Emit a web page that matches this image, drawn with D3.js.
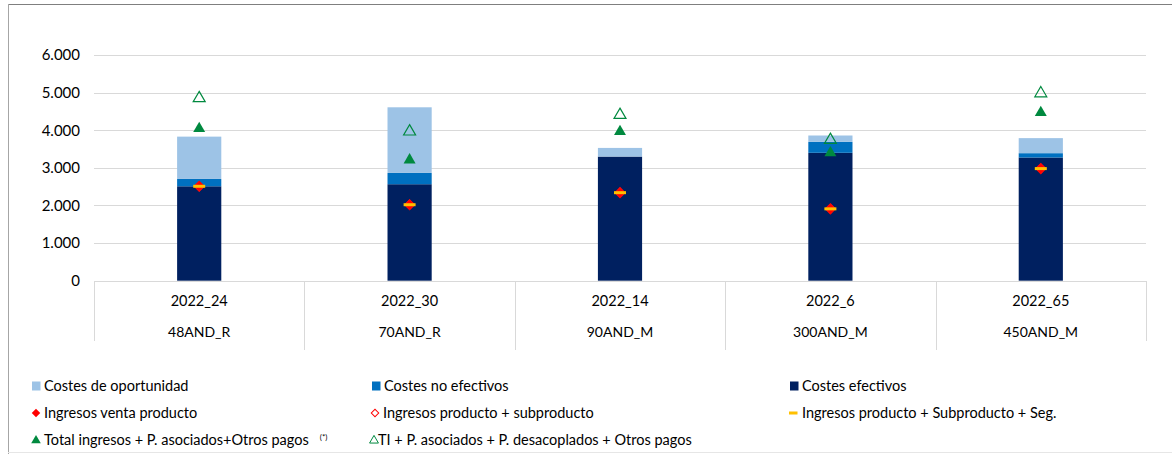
<!DOCTYPE html>
<html>
<head>
<meta charset="utf-8">
<script src="https://cdn.jsdelivr.net/npm/d3@7"></script>
<style>
  body { margin: 0; background: #fff; }
  svg text { font-family: Lato, "Open Sans", sans-serif; fill: #000; }
</style>
</head>
<body>
<div id="chart"></div>
<script>
  // datos
  var years = ["2022_24", "2022_30", "2022_14", "2022_6", "2022_65"];
  var zonas = ["48AND_R", "70AND_R", "90AND_M", "300AND_M", "450AND_M"];

  var costesEfectivos   = [2510, 2565, 3300, 3400, 3275];
  var costesNoEfectivos = [195, 300, 0, 290, 115];
  var costesOportunidad = [1125, 1745, 230, 170, 400];

  var ingresosVenta     = [2510, 2020, 2340, 1910, 2980];
  var ingresosProdSub   = [2510, 2020, 2340, 1910, 2980];
  var ingresosProdSubSeg = [2510, 2020, 2340, 1910, 2980];
  var totalIngresos     = [4045, 3210, 3965, 3400, 4470];
  var tiDesacoplados    = [4850, 3965, 4405, 3740, 4980];

  var yTicks = [0, 1000, 2000, 3000, 4000, 5000, 6000];

  var W = 1172, H = 454;
  var svg = d3.select("#chart").append("svg")
    .attr("width", W).attr("height", H);

  // marco
  svg.append("line").attr("x1", 8).attr("x2", W).attr("y1", 4.5).attr("y2", 4.5)
    .style("stroke", "#7f7f7f").style("stroke-width", 1);
  svg.append("line").attr("x1", 8.5).attr("x2", 8.5).attr("y1", 4).attr("y2", H)
    .style("stroke", "#a6a6a6").style("stroke-width", 1);
  svg.append("line").attr("x1", 8).attr("x2", W).attr("y1", 452.5).attr("y2", 452.5)
    .style("stroke", "#e6e6e6").style("stroke-width", 1);

  var x = d3.scaleBand().domain(years).range([94, 1146]).padding(0);
  var y = d3.scaleLinear().domain([0, 6000]).range([280.7, 55]);
  var barW = x.bandwidth() * 0.21;

  var loc = d3.formatLocale({decimal: ",", thousands: ".", grouping: [3], currency: ["", "€"]});
  var fmt = loc.format(",");

  // rejilla
  svg.append("g").selectAll("line").data(yTicks.slice(1)).enter().append("line")
    .attr("x1", 94).attr("x2", 1146)
    .attr("y1", function(d) { return Math.round(y(d)) + 0.5; })
    .attr("y2", function(d) { return Math.round(y(d)) + 0.5; })
    .style("stroke", "#d9d9d9").style("stroke-width", 1);

  // eje y
  var yAxis = svg.append("g").attr("transform", "translate(86,0)")
    .call(d3.axisLeft(y).tickValues(yTicks).tickFormat(fmt).tickSize(0).tickPadding(6));
  yAxis.select(".domain").remove();
  yAxis.selectAll("text").style("font-size", "15px");

  // barras apiladas
  var stackData = years.map(function(c, i) {
    return {cat: c, efe: costesEfectivos[i], noefe: costesNoEfectivos[i], opo: costesOportunidad[i]};
  });
  var series = d3.stack().keys(["efe", "noefe", "opo"])(stackData);
  var colores = {efe: "#002060", noefe: "#0070c0", opo: "#9dc3e6"};

  svg.append("g").selectAll("g").data(series).enter().append("g")
    .style("fill", function(d) { return colores[d.key]; })
    .selectAll("rect").data(function(d) { return d; }).enter().append("rect")
      .attr("x", function(d) { return x(d.data.cat) + x.bandwidth() / 2 - barW / 2; })
      .attr("width", barW)
      .attr("y", function(d) { return y(d[1]); })
      .attr("height", function(d) { return y(d[0]) - y(d[1]); });

  // linea base y tabla de categorias
  svg.append("line").attr("x1", 94).attr("x2", 1146).attr("y1", 281.5).attr("y2", 281.5)
    .style("stroke", "#d9d9d9");
  var bounds = years.map(function(c) { return x(c); }).concat([x.range()[1]]);
  svg.append("g").selectAll("line").data(bounds).enter().append("line")
    .attr("x1", function(d) { return Math.round(d) + 0.5; })
    .attr("x2", function(d) { return Math.round(d) + 0.5; })
    .attr("y1", 281)
    .attr("y2", function(d, i) { return (i == 0 || i == bounds.length - 1) ? 341 : 350; })
    .style("stroke", "#d9d9d9");

  svg.append("g").selectAll("text").data(years).enter().append("text")
    .attr("x", function(d) { return x(d) + x.bandwidth() / 2; })
    .attr("y", 306)
    .attr("text-anchor", "middle").style("font-size", "14.5px")
    .text(function(d) { return d; });
  svg.append("g").selectAll("text").data(zonas).enter().append("text")
    .attr("x", function(d, i) { return x(years[i]) + x.bandwidth() / 2; })
    .attr("y", 337)
    .attr("text-anchor", "middle").style("font-size", "14px")
    .text(function(d) { return d; });

  // marcadores
  var diamond = d3.symbol().type(d3.symbolSquare).size(52);
  var tri = d3.symbol().type(d3.symbolTriangle).size(62);
  function cx(i) { return x(years[i]) + x.bandwidth() / 2; }

  svg.append("g").selectAll("path").data(tiDesacoplados).enter().append("path")
    .attr("d", tri)
    .attr("transform", function(d, i) { return "translate(" + cx(i) + "," + y(d) + ")"; })
    .style("fill", "none").style("stroke", "#00893f").style("stroke-width", 1.2);
  svg.append("g").selectAll("path").data(totalIngresos).enter().append("path")
    .attr("d", tri)
    .attr("transform", function(d, i) { return "translate(" + cx(i) + "," + y(d) + ")"; })
    .style("fill", "#00893f");
  svg.append("g").selectAll("path").data(ingresosProdSub).enter().append("path")
    .attr("d", diamond)
    .attr("transform", function(d, i) { return "translate(" + cx(i) + "," + y(d) + ") rotate(45)"; })
    .style("fill", "#fff").style("stroke", "#ff0000");
  svg.append("g").selectAll("path").data(ingresosVenta).enter().append("path")
    .attr("d", diamond)
    .attr("transform", function(d, i) { return "translate(" + cx(i) + "," + y(d) + ") rotate(45)"; })
    .style("fill", "#ff0000");
  svg.append("g").selectAll("rect").data(ingresosProdSubSeg).enter().append("rect")
    .attr("x", function(d, i) { return cx(i) - 6; })
    .attr("y", function(d) { return y(d) - 1.5; })
    .attr("width", 12).attr("height", 3)
    .style("fill", "#ffc000");

  // leyenda
  var leyenda = [
    {t: "Costes de oportunidad", m: "sq", c: "#9dc3e6", mx: 36, tx: 44, y: 386},
    {t: "Costes no efectivos", m: "sq", c: "#0070c0", mx: 376, tx: 384, y: 386},
    {t: "Costes efectivos", m: "sq", c: "#002060", mx: 794, tx: 802, y: 386},
    {t: "Ingresos venta producto", m: "dia", c: "#ff0000", mx: 36, tx: 44, y: 413},
    {t: "Ingresos producto + subproducto", m: "odia", c: "#ff0000", mx: 375, tx: 383, y: 413},
    {t: "Ingresos producto + Subproducto + Seg.", m: "dash", c: "#ffc000", mx: 793, tx: 802, y: 413},
    {t: "Total ingresos + P. asociados+Otros pagos", m: "tri", c: "#00893f", mx: 36, tx: 44, y: 440},
    {t: "TI + P. asociados + P. desacoplados + Otros pagos", m: "otri", c: "#00893f", mx: 374, tx: 378, y: 440}
  ];
  var lg = svg.append("g").selectAll("g").data(leyenda).enter().append("g")
    .attr("transform", function(d) { return "translate(0," + d.y + ")"; });
  lg.each(function(d) {
    var g = d3.select(this);
    if (d.m == "sq") {
      g.append("rect").attr("x", d.mx - 4).attr("y", -4.5).attr("width", 8.5).attr("height", 9).style("fill", d.c);
    } else if (d.m == "dash") {
      g.append("rect").attr("x", d.mx - 4).attr("y", -1.5).attr("width", 8.5).attr("height", 3).style("fill", d.c);
    } else if (d.m == "dia" || d.m == "odia") {
      g.append("path").attr("d", d3.symbol().type(d3.symbolSquare).size(d.m == "dia" ? 36 : 28))
        .attr("transform", "translate(" + d.mx + ",0) rotate(45)")
        .style("fill", d.m == "dia" ? d.c : "#fff").style("stroke", d.c).style("stroke-width", d.m == "dia" ? 0 : 1);
    } else {
      g.append("path").attr("d", d3.symbol().type(d3.symbolTriangle).size(d.m == "tri" ? 40 : 34))
        .attr("transform", "translate(" + d.mx + ",0.5)")
        .style("fill", d.m == "tri" ? d.c : "#fff").style("stroke", d.c).style("stroke-width", d.m == "tri" ? 0 : 1);
    }
    var t = g.append("text").attr("x", d.tx).attr("y", 5).style("font-size", "14.5px").text(d.t);
    if (d.m == "tri") {
      g.append("text").attr("x", d.tx + t.node().getComputedTextLength() + 11).attr("y", 0)
        .style("font-size", "8px").text("(*)");
    }
  });
</script>
</body>
</html>
